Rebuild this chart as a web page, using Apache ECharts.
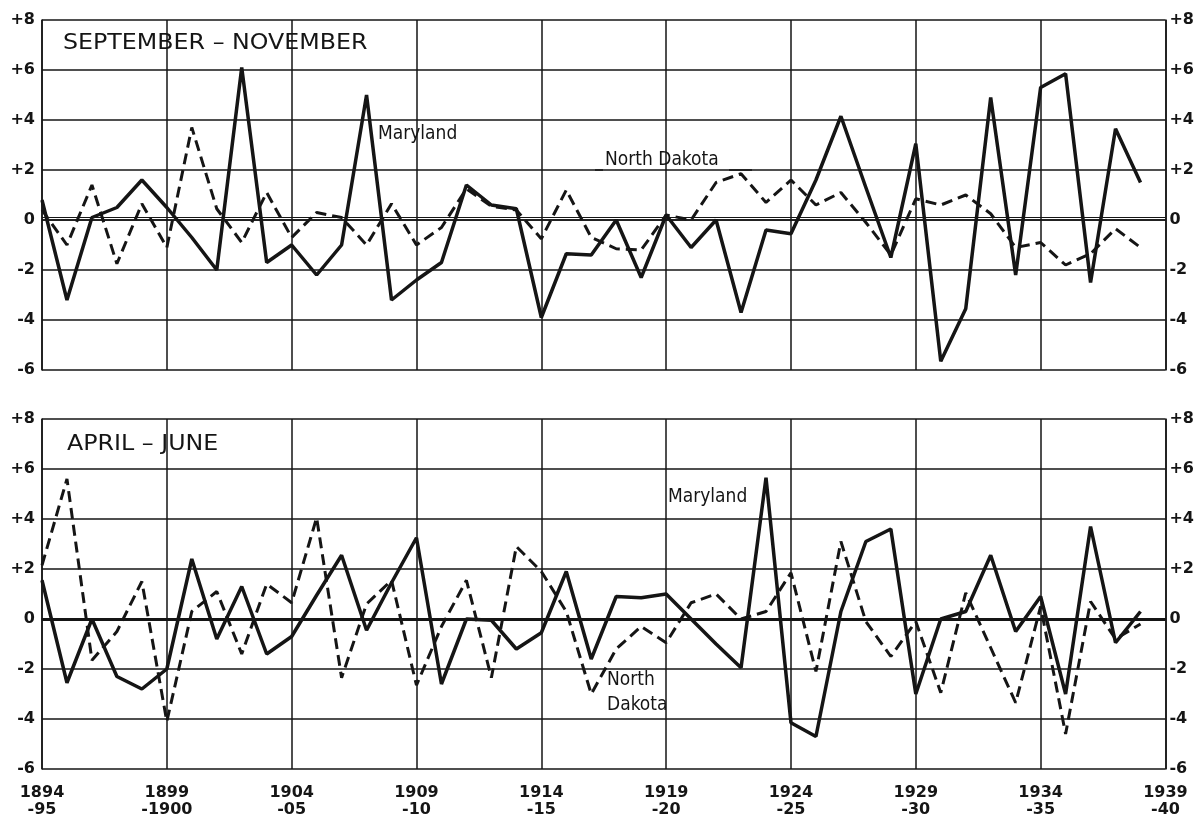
<!DOCTYPE html>
<html><head><meta charset="utf-8">
<script src="https://cdn.jsdelivr.net/npm/echarts@6/dist/echarts.min.js"></script>
<style>html,body{margin:0;padding:0;background:#fff}#c{width:1197px;height:818px}</style>
</head><body><div id="c"></div><script>
// Seasons 1894-95 ... 1939-40 (start years)
const years = ['1894','1895','1896','1897','1898','1899','1900','1901','1902','1903','1904','1905','1906','1907','1908','1909','1910','1911','1912','1913','1914','1915','1916','1917','1918','1919','1920','1921','1922','1923','1924','1925','1926','1927','1928','1929','1930','1931','1932','1933','1934','1935','1936','1937','1938','1939'];
const xTickLabels = ['1894\n-95','1899\n-1900','1904\n-05','1909\n-10','1914\n-15','1919\n-20','1924\n-25','1929\n-30','1934\n-35','1939\n-40'];
const yTicks = ['-6','-4','-2','0','+2','+4','+6','+8'];

// SEPTEMBER - NOVEMBER
const sonMaryland = [0.8,-3.2,0.1,0.5,1.6, 0.5,-0.7,-2.0,6.1,-1.7, -1.0,-2.2,-1.0,5.0,-3.2, -2.4,-1.7,1.4,0.6,0.45, -3.9,-1.35,-1.4,0.0,-2.3, 0.2,-1.1,0.0,-3.7,-0.4, -0.55,1.6,4.15,1.3,-1.5, 3.05,-5.65,-3.55,4.9,-2.2, 5.3,5.85,-2.5,3.65,1.5];
const sonNorthDakota = [0.4,-1.0,1.4,-1.75,0.65, -1.1,3.7,0.45,-0.9,1.1, -0.7,0.3,0.1,-1.0,0.65, -1.0,-0.3,1.25,0.55,0.4, -0.75,1.2,-0.7,-1.15,-1.2, 0.2,0.0,1.5,1.85,0.7, 1.6,0.6,1.1,-0.1,-1.4, 0.85,0.6,1.0,0.25,-1.1, -0.9,-1.8,-1.35,-0.35,-1.1];
// APRIL - JUNE
const amjMaryland = [1.55,-2.55,0.0,-2.3,-2.8, -2.0,2.4,-0.8,1.3,-1.4, -0.7,0.95,2.55,-0.45,1.45, 3.25,-2.6,0.0,-0.05,-1.2, -0.55,1.9,-1.6,0.9,0.85, 1.0,0.0,-1.0,-1.95,5.65, -4.15,-4.7,0.3,3.1,3.6, -3.0,0.0,0.3,2.55,-0.5, 0.9,-3.0,3.7,-0.95,0.3];
const amjNorthDakota = [2.15,5.6,-1.65,-0.5,1.5, -4.1,0.3,1.1,-1.4,1.4, 0.65,4.05,-2.35,0.6,1.55, -2.65,-0.3,1.55,-2.35,2.9, 1.9,0.3,-3.0,-1.2,-0.3, -0.95,0.65,1.0,0.0,0.3, 1.85,-2.1,3.1,-0.1,-1.5, -0.1,-2.95,1.05,-1.15,-3.35, 0.5,-4.6,0.7,-0.8,-0.2];

const INK = '#151515';
const tickFont = {fontFamily:'DejaVu Sans', fontWeight:'bold', fontSize:16, color:INK};
const yFmt = v => yTicks[(v + 6) / 2];

function xAxis(gi, showLabels) {
  return {
    type:'category', gridIndex:gi, data:years, boundaryGap:false,
    axisLine:{show:true, lineStyle:{color:INK, width:1.5}},
    axisTick:{show:false, interval:4},
    axisLabel:{show:showLabels, interval:4, margin:15, lineHeight:17, ...tickFont,
      formatter:(v, i) => xTickLabels[i / 5]},
    splitLine:{show:true, interval:4, lineStyle:{color:INK, width:1.5}}
  };
}
function yAxis(gi, pos) {
  return {
    type:'value', gridIndex:gi, position:pos, min:-6, max:8, interval:2,
    axisLine:{show:true, lineStyle:{color:INK, width:1.5}},
    axisTick:{show:false},
    axisLabel:{show:true, margin: pos === 'left' ? 7 : 4, ...tickFont, formatter:yFmt},
    splitLine:{show: pos === 'left', lineStyle:{color:INK, width:1.5}}
  };
}
function line(name, data, xi, yi, dashed, extra) {
  return Object.assign({
    name, type:'line', data, xAxisIndex:xi, yAxisIndex:yi, symbol:'none', silent:true,
    lineStyle: dashed ? {color:INK, width:3, type:[11,6]} : {color:INK, width:3.5},
    z: dashed ? 3 : 4
  }, extra || {});
}
const chart = echarts.init(document.getElementById('c'), null, {renderer:'canvas'});
const annFont = {fontFamily:'DejaVu Sans Condensed', fontSize:19, fill:INK};
chart.setOption({
  animation:false,
  backgroundColor:'#fff',
  grid:[
    {left:42, right:31, top:20, height:350},
    {left:42, right:31, top:419, height:350}
  ],
  xAxis:[xAxis(0,false), xAxis(1,true)],
  yAxis:[yAxis(0,'left'), yAxis(0,'right'), yAxis(1,'left'), yAxis(1,'right')],
  series:[
    line('Maryland', sonMaryland, 0, 0, false, {markLine:{silent:true, symbol:'none', label:{show:false},
      lineStyle:{color:INK, width:1.2, type:'solid'}, data:[{yAxis:0.12}]}}),
    line('North Dakota', sonNorthDakota, 0, 0, true),
    line('Maryland', amjMaryland, 1, 2, false, {markLine:{silent:true, symbol:'none', label:{show:false},
      lineStyle:{color:INK, width:3, type:'solid'}, data:[{yAxis:0}]}}),
    line('North Dakota', amjNorthDakota, 1, 2, true)
  ],
  graphic:[
    {type:'text', left:63, top:33, scaleX:1.13, style:{text:'SEPTEMBER – NOVEMBER', fontFamily:'DejaVu Sans', fontSize:21, fill:INK}},
    {type:'text', left:67, top:434, scaleX:1.13, style:{text:'APRIL – JUNE', fontFamily:'DejaVu Sans', fontSize:21, fill:INK}},
    {type:'text', left:378, top:125, style:Object.assign({text:'Maryland'}, annFont)},
    {type:'text', left:605, top:151, style:Object.assign({text:'North Dakota'}, annFont)},
    {type:'line', shape:{x1:595, y1:170, x2:603, y2:170}, style:{stroke:INK, lineWidth:1.5}},
    {type:'line', shape:{x1:729, y1:170, x2:752, y2:170}, style:{stroke:INK, lineWidth:1.5}},
    {type:'text', left:668, top:488, style:Object.assign({text:'Maryland'}, annFont)},
    {type:'text', left:607, top:668, style:Object.assign({text:'North\nDakota', align:'center', lineHeight:25}, annFont)}
  ]
});
</script></body></html>
